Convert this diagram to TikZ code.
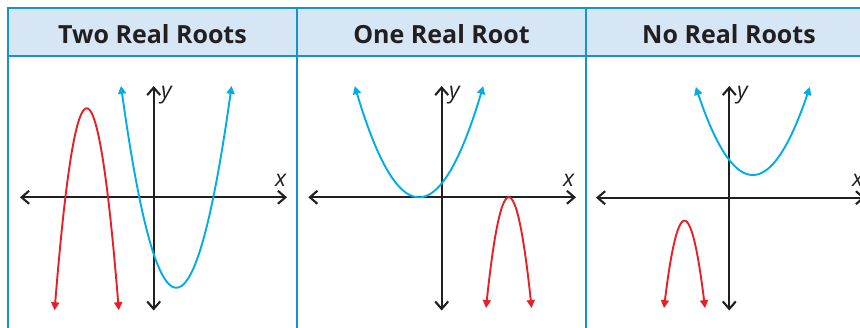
\documentclass[tikz,border=0pt]{standalone}
\usepackage{fontspec}
\setsansfont{Open Sans}
\usetikzlibrary{arrows.meta}
\definecolor{hdrfill}{RGB}{214,230,245}
\definecolor{tblline}{RGB}{20,146,212}
\definecolor{curveblue}{RGB}{0,172,236}
\definecolor{curvered}{RGB}{234,30,38}
\definecolor{axisgray}{RGB}{35,31,32}
\tikzset{
  tbl/.style={draw=tblline, line width=1.8pt},
  hdrtext/.style={font=\sffamily\bfseries\fontsize{25}{28}\selectfont, text=axisgray, anchor=base, inner sep=0pt},
  axislbl/.style={font=\sffamily\itshape\fontsize{23}{26}\selectfont, text=axisgray, anchor=base west, inner sep=0pt},
  axis/.style={draw=axisgray, line width=2.1pt, {Straight Barb[length=7.5pt,width=13pt,line width=2.1pt]}-{Straight Barb[length=7.5pt,width=13pt,line width=2.1pt]}},
  bluecurve/.style={draw=curveblue, line width=1.9pt, {Triangle[length=8pt,width=8pt]}-{Triangle[length=8pt,width=8pt]}},
  redcurve/.style={draw=curvered, line width=1.9pt, {Triangle[length=8pt,width=8pt]}-{Triangle[length=8pt,width=8pt]}},
}
\begin{document}
\begin{tikzpicture}[x=1pt,y=-1pt]
\useasboundingbox (0,0) rectangle (860,327);
\clip (0,0) rectangle (860,327);
\fill[white] (0,0) rectangle (860,327);
% header
\fill[hdrfill] (8,8) rectangle (880,56);
\draw[tbl] (880,8) -- (8,8) -- (8,340);
\draw[tbl] (8,56) -- (880,56);
\draw[tbl] (297,8) -- (297,340);
\draw[tbl] (586,8) -- (586,340);
\node[hdrtext] (h1) at (152.5,43) {Two Real Roots};
\node[hdrtext] (h2) at (441.5,43) {One Real Root};
\node[hdrtext] (h3) at (729,43) {No Real Roots};

% panel 1
\coordinate (xa1l) at (20,197.3); \coordinate (xa1r) at (287,197.3);
\coordinate (ya1b) at (153.7,310.5); \coordinate (ya1t) at (153.7,86);
\draw[axis] (xa1l) -- (xa1r);
\draw[axis] (ya1b) -- (ya1t);
\node[axislbl] (x1) at (275,186) {x};
\node[axislbl] (y1) at (161,98) {y};
\draw[redcurve] plot[domain=54.6:118.8, samples=80, smooth] (\x,{108.3+0.196*(\x-86.7)^2});
\draw[bluecurve] plot[domain=121:231.6, samples=80, smooth] (\x,{287.7-0.066*(\x-176.3)^2});

% panel 2
\coordinate (xa2l) at (308.3,197.3); \coordinate (xa2r) at (576,197.3);
\coordinate (ya2b) at (441.7,310.5); \coordinate (ya2t) at (441.7,86);
\draw[axis] (xa2l) -- (xa2r);
\draw[axis] (ya2b) -- (ya2t);
\node[axislbl] (x2) at (563,186) {x};
\node[axislbl] (y2) at (449,98) {y};
\draw[bluecurve] plot[domain=354.8:483.2, samples=80, smooth] (\x,{197.3-0.027*(\x-419)^2});
\draw[redcurve] plot[domain=486:531.6, samples=80, smooth] (\x,{197.3+0.213*(\x-508.8)^2});

% panel 3
\coordinate (xa3l) at (596,197.7); \coordinate (xa3r) at (865,197.7);
\coordinate (ya3b) at (729.3,310.5); \coordinate (ya3t) at (729.3,86);
\draw[axis] (xa3l) -- (xa3r);
\draw[axis] (ya3b) -- (ya3t);
\node[axislbl] (x3) at (852,186) {x};
\node[axislbl] (y3) at (737,98) {y};
\draw[bluecurve] plot[domain=695.8:809.8, samples=80, smooth] (\x,{175-0.0271*(\x-752.8)^2});
\draw[redcurve] plot[domain=664:705, samples=80, smooth] (\x,{220.7+0.208*(\x-684.5)^2});
\end{tikzpicture}
\end{document}
